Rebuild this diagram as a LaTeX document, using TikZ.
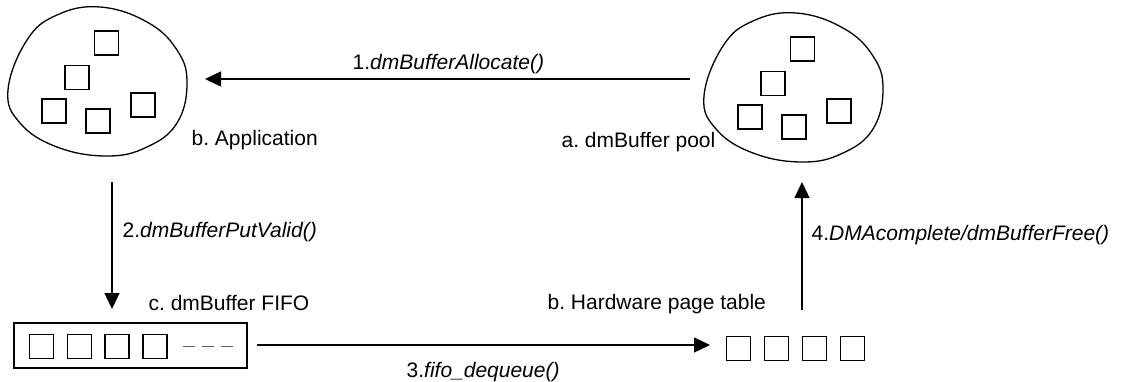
\documentclass[tikz,border=0pt]{standalone}
\usepackage{fontspec}
\setmainfont{Liberation Sans}
\usetikzlibrary{arrows.meta}
\frenchspacing
\begin{document}
\begin{tikzpicture}[x=1pt,y=-1pt,
  line width=1.3pt,
  every node/.style={font=\fontsize{21}{25}\selectfont},
  cell/.style={draw,minimum width=24pt,minimum height=24pt,inner sep=0pt,line width=1.2pt},
  lbl/.style={anchor=base west,inner sep=0pt},
  flow/.style={-{Triangle[length=16pt,width=15pt]}},
  blobline/.style={line width=1.3pt}
]
\useasboundingbox (0,0) rectangle (1128,381);

% --- application pool (left blob) ---
\draw[blobline] plot[smooth cycle,tension=0.7] coordinates {
  (8,90) (27,40) (57,15) (100,7) (147,22) (177,50) (187,83)
  (177,123) (147,147) (107,156) (57,147) (20,123)};
\node[cell] (ap1) at (106.5,43) {};
\node[cell] (ap2) at (77,77.5) {};
\node[cell] (ap3) at (54,111) {};
\node[cell] (ap4) at (98,121) {};
\node[cell] (ap5) at (143,105) {};
\node[lbl] (app) at (191,145) {b. Application};

% --- dmBuffer pool (right blob) ---
\begin{scope}[shift={(696,6)}]
\draw[blobline] plot[smooth cycle,tension=0.7] coordinates {
  (8,90) (27,40) (57,15) (100,7) (147,22) (177,50) (187,83)
  (177,123) (147,147) (107,156) (57,147) (20,123)};
\node[cell] (bp1) at (106.5,43) {};
\node[cell] (bp2) at (77,77.5) {};
\node[cell] (bp3) at (54,111) {};
\node[cell] (bp4) at (98,121) {};
\node[cell] (bp5) at (143,105) {};
\end{scope}
\node[lbl] (pool) at (561,147) {a. dmBuffer pool};

% --- dmBuffer FIFO ---
\node[draw,minimum width=233pt,minimum height=45pt,inner sep=0pt,line width=1.2pt] (fifo) at (130.5,345.5) {};
\node[cell] (f1) at (41.5,346.5) {};
\node[cell] (f2) at (79.5,346.5) {};
\node[cell] (f3) at (117,346.5) {};
\node[cell] (f4) at (155,346.5) {};
\coordinate (fd1) at (183,346.5);
\coordinate (fd2) at (233,346.5);
\draw[gray!75!black,line width=1pt,dash pattern=on 12pt off 7pt] (fd1) -- (fd2);
\node[lbl] (fifolbl) at (148,310) {c. dmBuffer FIFO};

% --- hardware page table ---
\node[cell] (h1) at (738.5,348.5) {};
\node[cell] (h2) at (776.5,348.5) {};
\node[cell] (h3) at (814.5,348.5) {};
\node[cell] (h4) at (852.5,348.5) {};
\node[lbl] (hwlbl) at (547,309) {b. Hardware page table};

% --- transitions ---
\coordinate (a1s) at (690,79);
\coordinate (a1e) at (205,79);
\draw[flow] (a1s) -- (a1e);
\node[lbl] (t1) at (352,69) {1.\textit{dmBufferAllocate()}};

\coordinate (a2s) at (112,182);
\coordinate (a2e) at (112,309);
\draw[flow] (a2s) -- (a2e);
\node[lbl] (t2) at (122,237) {2.\textit{dmBufferPutValid()}};

\coordinate (a3s) at (257,345);
\coordinate (a3e) at (710,345);
\draw[flow] (a3s) -- (a3e);
\node[lbl] (t3) at (406,377) {3.\textit{fifo\_dequeue()}};

\coordinate (a4s) at (802,310);
\coordinate (a4e) at (802,182);
\draw[flow] (a4s) -- (a4e);
\node[lbl] (t4) at (811,240) {4.\textit{DMAcomplete/dmBufferFree()}};
\end{tikzpicture}
\end{document}
